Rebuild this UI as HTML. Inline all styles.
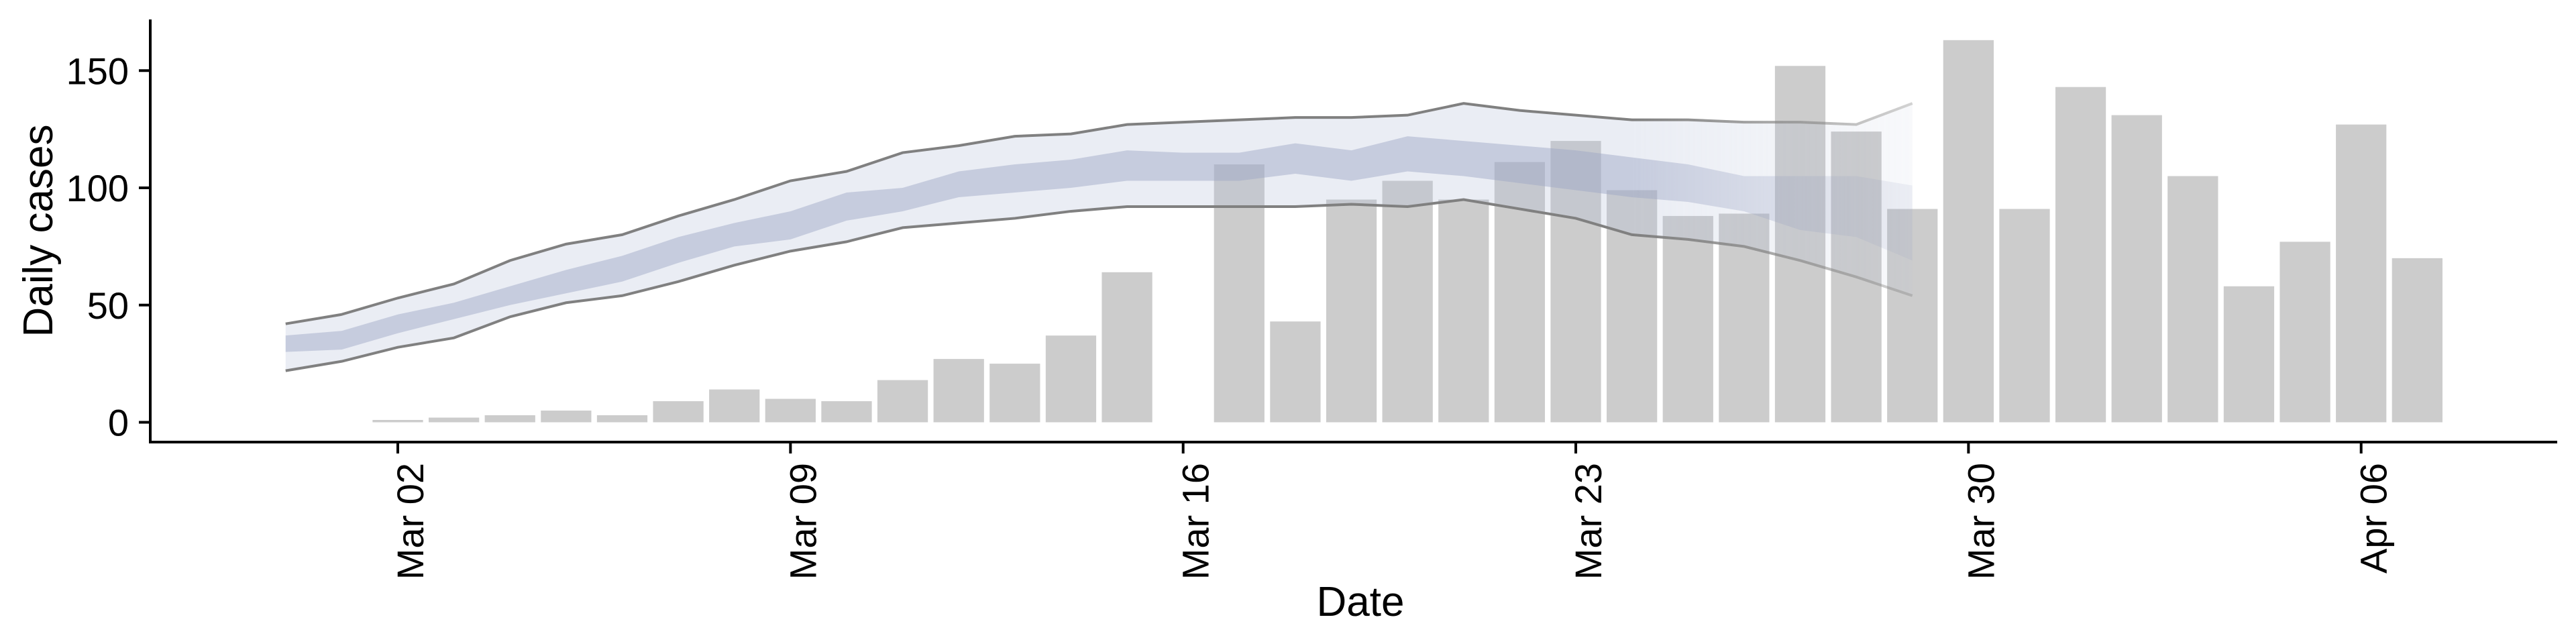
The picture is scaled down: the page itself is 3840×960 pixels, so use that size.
<!DOCTYPE html>
<html><head><meta charset="utf-8"><style>
html,body{margin:0;padding:0;background:#fff;}
svg{display:block;font-family:"Liberation Sans",Arial,sans-serif;}
</style></head><body>
<svg id="chart" width="3840" height="960" viewBox="0 0 3840 960" xmlns="http://www.w3.org/2000/svg">
<defs>
<linearGradient id="fadeGrad" gradientUnits="userSpaceOnUse" x1="0" y1="0" x2="3840" y2="0">
<stop id="fs1" offset="0" stop-color="#fff" stop-opacity="1"/>
<stop id="fs2" offset="0" stop-color="#fff" stop-opacity="0.35"/>
</linearGradient>
<mask id="fadeMask" maskUnits="userSpaceOnUse" x="0" y="0" width="3840" height="960">
<rect x="0" y="0" width="3840" height="960" fill="url(#fadeGrad)"/>
</mask>
</defs>
<g id="bars"></g>
<g id="ribbon" mask="url(#fadeMask)"></g>
<g id="axes"></g>
</svg>
<script>
// Data (day offsets from Mar 02)
const barDays = [0,1,2,3,4,5,6,7,8,9,10,11,12,13,15,16,17,18,19,20,21,22,23,24,25,26,27,28,29,30,31,32,33,34,35,36];
const barValues = [1,2,3,5,3,9,14,10,9,18,27,25,37,64,110,43,95,103,95,111,120,99,88,89,152,124,91,163,91,143,131,105,58,77,127,70];
const ribbonStart = -2;
const upperOuter = [42,46,53,59,69,76,80,88,95,103,107,115,118,122,123,127,128,129,130,130,131,136,133,131,129,129,128,128,127,136];
const lowerOuter = [22,26,32,36,45,51,54,60,67,73,77,83,85,87,90,92,92,92,92,93,92,95,91,87,80,78,75,69,62,54];
const upperInner = [37,39,46,51,58,65,71,79,85,90,98,100,107,110,112,116,115,115,119,116,122,120,118,116,113,110,105,105,105,101];
const lowerInner = [30,31,38,44,50,55,60,68,75,78,86,90,96,98,100,103,103,103,106,103,107,105,102,99,96,94,90,82,79,69];
const yTicks = [0,50,100,150];
const xTickDays = [0,7,14,21,28,35];
const xTickLabels = ["Mar 02","Mar 09","Mar 16","Mar 23","Mar 30","Apr 06"];
const fadeStartDay = 22, fadeEndDay = 27;

const NS = "http://www.w3.org/2000/svg";
const X0 = 593, DAY = 83.62, Y0 = 629.5, PU = 3.495;
const xS = d => X0 + d * DAY;
const yS = v => Y0 - v * PU;
function mk(tag, attrs, parent){const e=document.createElementNS(NS,tag);for(const k in attrs)e.setAttribute(k,attrs[k]);parent.appendChild(e);return e;}

document.getElementById('fs1').setAttribute('offset', xS(fadeStartDay)/3840);
document.getElementById('fs2').setAttribute('offset', xS(fadeEndDay)/3840);

const gb = document.getElementById('bars');
barDays.forEach((d,i)=>{
  const w = DAY*0.9, v = barValues[i];
  const r = mk('rect',{x:xS(d)-w/2,y:yS(v),width:w,height:v*PU,fill:'#cccccc'},gb);
  
  
});

const gr = document.getElementById('ribbon');
function band(up, lo, fill, name){
  let pts = up.map((v,i)=>xS(ribbonStart+i)+','+yS(v));
  for(let i=lo.length-1;i>=0;i--) pts.push(xS(ribbonStart+i)+','+yS(lo[i]));
  const p = mk('polygon',{points:pts.join(' '),fill:fill},gr);
  
  
}
band(upperOuter, lowerOuter, 'rgba(180,190,215,0.28)', 'outer-interval');
band(upperInner, lowerInner, 'rgba(155,165,195,0.45)', 'inner-interval');
function line(arr, name){
  const p = mk('polyline',{points:arr.map((v,i)=>xS(ribbonStart+i)+','+yS(v)).join(' '),fill:'none',stroke:'#808080','stroke-width':4},gr);
  
  
}
line(upperOuter,'upper-bound-line');
line(lowerOuter,'lower-bound-line');

const ga = document.getElementById('axes');
const ya = mk('line',{x1:224,y1:29,x2:224,y2:661,stroke:'#000','stroke-width':4},ga);


const xa = mk('line',{x1:222,y1:659,x2:3812,y2:659,stroke:'#000','stroke-width':4},ga);


yTicks.forEach(v=>{
  const t = mk('line',{x1:207,y1:yS(v),x2:224,y2:yS(v),stroke:'#000','stroke-width':4},ga);
  
  
  const l = mk('text',{x:192,y:yS(v)+20,'text-anchor':'end','font-size':56,fill:'#000'},ga);
  l.textContent = v;
  
  
});
xTickDays.forEach((d,i)=>{
  const x = xS(d);
  const t = mk('line',{x1:x,y1:659,x2:x,y2:676,stroke:'#000','stroke-width':4},ga);
  
  
  const l = mk('text',{x:0,y:0,'text-anchor':'end','font-size':56,fill:'#000',transform:'translate('+(x+38)+',690) rotate(-90)'},ga);
  l.textContent = xTickLabels[i];
  
  
});
const yt = mk('text',{x:0,y:0,'text-anchor':'middle','font-size':62,fill:'#000',transform:'translate(78,344) rotate(-90)'},ga);
yt.textContent = 'Daily cases';


const xt = mk('text',{x:2028,y:918,'text-anchor':'middle','font-size':62,fill:'#000'},ga);
xt.textContent = 'Date';


</script>
</body></html>
